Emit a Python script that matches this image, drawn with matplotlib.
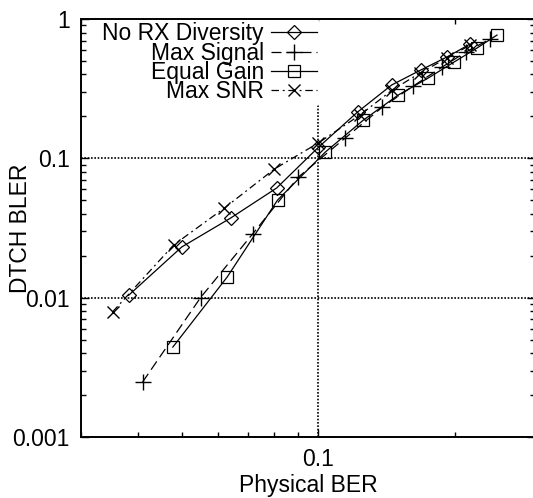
import matplotlib
matplotlib.use("Agg")
import matplotlib.pyplot as plt
from matplotlib.ticker import LogLocator, FixedLocator, NullFormatter, FixedFormatter

plt.rcParams['font.family'] = ['Liberation Sans', 'DejaVu Sans']

# ---- data ----
norx_x = [0.0382, 0.050, 0.0641, 0.0809, 0.100, 0.122, 0.145, 0.168, 0.192, 0.216]
norx_y = [0.0104, 0.0231, 0.0373, 0.0612, 0.120, 0.215, 0.336, 0.430, 0.534, 0.662]

maxsig_x = [0.041, 0.055, 0.0716, 0.0904, 0.1146, 0.1383, 0.1617, 0.1873, 0.2115, 0.2388]
maxsig_y = [0.00248, 0.0100, 0.0286, 0.0735, 0.140, 0.233, 0.330, 0.452, 0.580, 0.718]

eqg_x = [0.0478, 0.063, 0.0813, 0.1036, 0.1256, 0.150, 0.1745, 0.199, 0.2236, 0.2474]
eqg_y = [0.00442, 0.0141, 0.0502, 0.111, 0.188, 0.285, 0.377, 0.491, 0.619, 0.767]

maxsnr_x = [0.0352, 0.048, 0.0621, 0.080, 0.100, 0.1236, 0.1454, 0.1675, 0.192, 0.216]
maxsnr_y = [0.0079, 0.0239, 0.044, 0.0838, 0.129, 0.205, 0.309, 0.410, 0.525, 0.650]

labels = ["No RX Diversity", "Max Signal", "Equal Gain", "Max SNR"]
yticks = [0.001, 0.01, 0.1, 1]
ytick_labels = ["0.001", "0.01", "0.1", "1"]
xticks = [0.1]
xtick_labels = ["0.1"]

fig = plt.figure(figsize=(5.33, 4.98), dpi=100)
ax = fig.add_axes([81/533, (498-437)/498, (535-81)/533, (437-19)/498])

lw = 0.9
ax.plot(norx_x, norx_y, color='black', lw=lw, ls='-', marker='D', ms=7,
        mfc='none', mec='black', mew=0.9, label=labels[0])
ax.plot(maxsig_x, maxsig_y, color='black', lw=lw, ls=(0, (8, 4)), marker='+', ms=11,
        mec='black', mew=1.0, label=labels[1])
ax.plot(eqg_x, eqg_y, color='black', lw=lw, ls='-', marker='s', ms=8,
        mfc='none', mec='black', mew=0.9, label=labels[2])
ax.plot(maxsnr_x, maxsnr_y, color='black', lw=lw, ls=(0, (6, 3, 1.5, 3)), marker='x', ms=9,
        mec='black', mew=1.0, label=labels[3])

ax.set_xscale('log')
ax.set_yscale('log')
ax.set_xlim(0.03, 0.3)
ax.set_ylim(0.001, 1)

ax.xaxis.set_major_locator(FixedLocator(xticks))
ax.xaxis.set_major_formatter(FixedFormatter(xtick_labels))
ax.xaxis.set_minor_locator(LogLocator(base=10, subs=range(2, 10)))
ax.xaxis.set_minor_formatter(NullFormatter())
ax.yaxis.set_major_locator(FixedLocator(yticks))
ax.yaxis.set_major_formatter(FixedFormatter(ytick_labels))
ax.yaxis.set_minor_locator(LogLocator(base=10, subs=range(2, 10)))
ax.yaxis.set_minor_formatter(NullFormatter())

ax.tick_params(which='both', direction='in', top=True, right=True, labelsize=16.5, pad=8)
ax.tick_params(which='major', length=6, width=1)
ax.tick_params(which='minor', length=3.5, width=1)

ax.grid(True, which='major', color='black', ls=(0, (1, 1)), lw=1.2)
for s in ax.spines.values():
    s.set_linestyle((0, (1, 1)))
    s.set_linewidth(1.4)

ax.set_xlabel("Physical BER", fontsize=16.5, labelpad=2)
ax.set_ylabel("DTCH BLER", fontsize=16.5)
ax.yaxis.set_label_coords((32 - 81) / 454, 0.5)

leg = ax.legend(loc='upper right', bbox_to_anchor=((320-81)/454, 1.0), markerfirst=False,
                fontsize=16.5, frameon=True, handlelength=2.0, handletextpad=0.3,
                labelspacing=-0.17, borderpad=0.15, borderaxespad=0.0)
leg.get_frame().set_facecolor('white')
leg.get_frame().set_edgecolor('none')
leg.get_frame().set_alpha(1)
leg.set_zorder(2.2)

fig.savefig("out.png", dpi=100)
